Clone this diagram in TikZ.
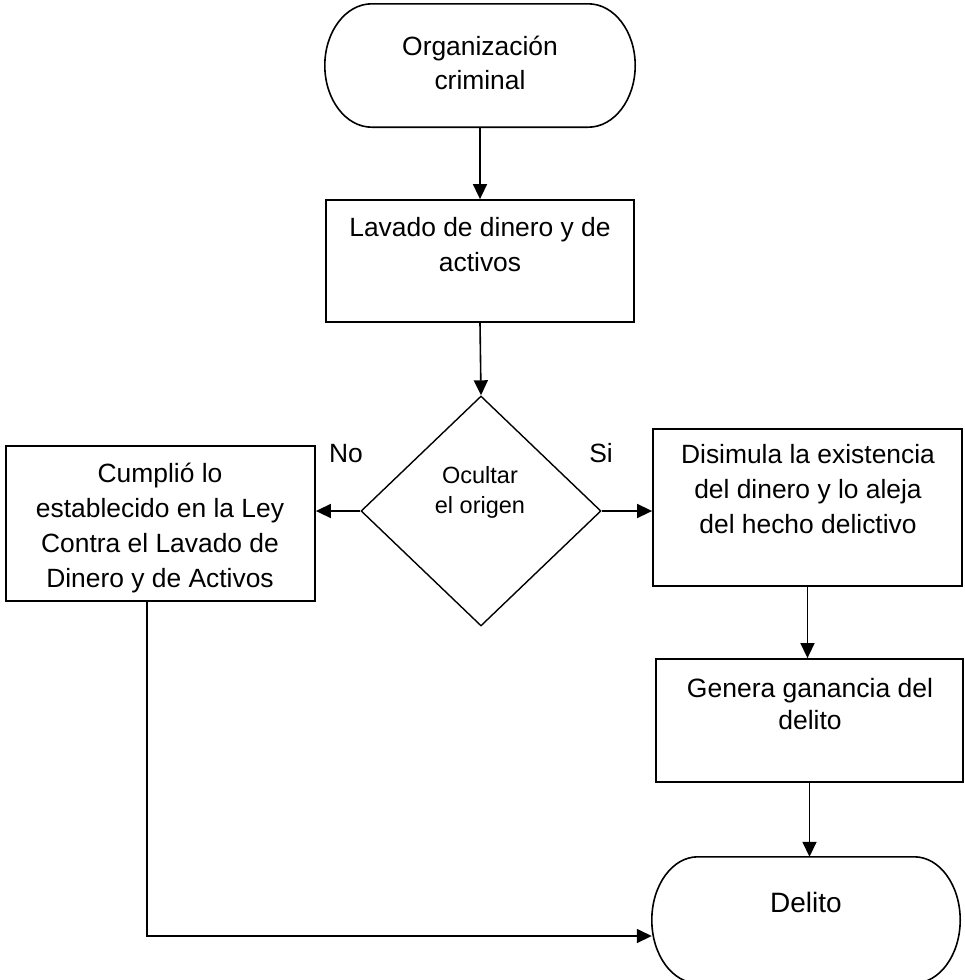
\documentclass[tikz,border=0pt]{standalone}
\usepackage{fontspec}
\setmainfont{Liberation Sans}
\usetikzlibrary{arrows.meta,calc,shapes.geometric}

% outline of a terminator: straight top and bottom, elliptical ends
% #1 = node name, #2 = horizontal radius of the ends
\newcommand\terminatoroutline[2]{%
  \path let \p1 = (#1.north), \p2 = (#1.south), \n1 = {(\y1-\y2)/2} in
    [draw, termline]
    ($(#1.north west)+(#2,0)$) -- ($(#1.north east)+(-#2,0)$)
    arc[start angle=90, end angle=-90, x radius=#2pt, y radius=\n1]
    -- ($(#1.south west)+(#2,0)$)
    arc[start angle=270, end angle=90, x radius=#2pt, y radius=\n1]
    -- cycle;%
}

\begin{document}
\begin{tikzpicture}[x=1pt,y=-1pt,
  boxshape/.style={draw, rectangle, line width=1.8pt, inner sep=0pt},
  termshape/.style={rectangle, inner sep=0pt},
  decision/.style={draw, diamond, line width=1.4pt, inner sep=0pt,
                   minimum width=240pt, minimum height=230pt},
  lbl/.style={font=\fontsize{26.4}{35}\selectfont, align=center,
              inner sep=0pt, anchor=base},
  arr/.style={-{Triangle[length=15pt,width=14pt]}, line width=1.6pt},
  termline/.style={line width=1.6pt}
]
\useasboundingbox (0,0) rectangle (964,980);

% shapes
\node[termshape, minimum width=310pt, minimum height=123pt] (top) at (480,65.5) {};
\terminatoroutline{top}{47}
\node[boxshape, minimum width=308pt, minimum height=122pt] (lavado) at (480,261) {};
\node[decision] (dia) at (481,511) {};
\node[boxshape, minimum width=309pt, minimum height=155pt] (cumple) at (160.5,523.5) {};
\node[boxshape, minimum width=309pt, minimum height=157pt] (disimula) at (807.5,507.5) {};
\node[boxshape, minimum width=307pt, minimum height=123pt] (genera) at (809.5,720.5) {};
\node[termshape, minimum width=308pt, minimum height=126pt] (delito) at (806,920) {};
\terminatoroutline{delito}{46}

% texts (anchored at the baseline of their last line)
\node[lbl, font=\fontsize{26.4}{34}\selectfont] (toptxt) at (480,89) {Organización\\criminal};
\node[lbl] (lavadotxt) at (480,271) {Lavado de dinero y de\\activos};
\node[lbl, font=\fontsize{23.5}{30}\selectfont] (diatxt) at (480,513) {Ocultar\\el origen};
\node[lbl] (cumpletxt) at (160,587) {Cumplió lo\\establecido en la Ley\\Contra el Lavado de\\Dinero y de Activos};
\node[lbl] (disimulatxt) at (808,533) {Disimula la existencia\\del dinero y lo aleja\\del hecho delictivo};
\node[lbl, font=\fontsize{26.5}{32}\selectfont] (generatxt) at (810,729) {Genera ganancia del\\delito};
\node[lbl, font=\fontsize{28}{34}\selectfont] (delitotxt) at (806,912) {Delito};
\node[lbl] (no) at (346,462) {No};
\node[lbl] (si) at (601,462) {Si};

% connectors
\draw[arr] (top.south) -- (lavado.north);
\draw[arr] (lavado.south) -- (dia.north);
\draw[arr] (dia.west) -- (dia.west -| cumple.east);
\draw[arr] (dia.east) -- (dia.east -| disimula.west);
\draw[arr] (disimula.south) -- (disimula.south |- genera.north);
\draw[arr] (genera.south) -- (genera.south |- delito.north);
\draw[arr] ($(cumple.south)+(-13.5,0)$) |- ($(delito.west)+(0,16)$);
\end{tikzpicture}
\end{document}
